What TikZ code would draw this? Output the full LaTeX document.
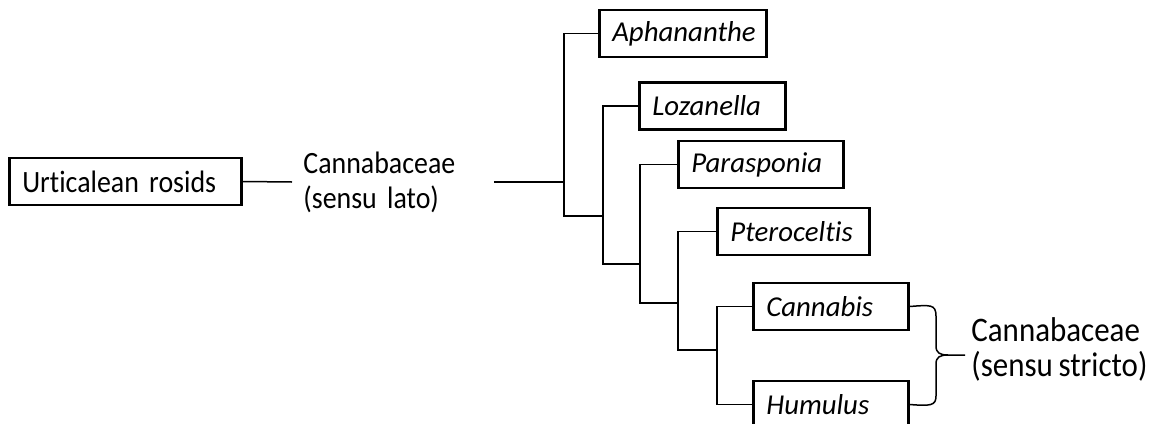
\documentclass[tikz,border=0pt]{standalone}
\usepackage{fontspec}
\setmainfont{Carlito}[Ligatures=CommonOff, FakeStretch=0.9, WordSpace=0.8]
\newfontfamily\taxfont{Carlito}[Ligatures=CommonOff]
\usepackage{tikz}

\begin{document}
\begin{tikzpicture}[x=0.5pt,y=0.5pt,yscale=-1,
    taxon/.style={draw, line width=1.3pt, inner xsep=6.5pt, inner ysep=0pt,
        minimum height=23.5pt, align=left, anchor=west,
        font=\taxfont\itshape\fontsize{14.4}{17}\selectfont},
    clade/.style={inner ysep=0pt, align=left, anchor=west},
    link/.style={line width=0.75pt}
  ]
\clip (0,0) rectangle (1150,423); %set diagram size 1150 x 423

% Text Node
\node [taxon, text width=103pt, font=\fontsize{15.5}{17}\selectfont] (urt) at (8,181.5) {Urticalean rosids};
% Text Node
\node [clade, inner xsep=5.5pt, text width=89.5pt,
    font=\fontsize{15.5}{17.5}\selectfont] (lato) at (292,182) {Cannabaceae\\(sensu lato)};

% Taxon boxes
\node [taxon, text width=70.5pt] (aph) at (598,33.5) {Aphananthe};
\node [taxon, text width=60pt] (loz) at (638,106) {Lozanella};
\node [taxon, text width=69.5pt] (par) at (677,164.5) {Parasponia};
\node [taxon, text width=63pt] (pte) at (716,231.5) {Pteroceltis};
\node [taxon, text width=64.5pt] (can) at (752,306.5) {Cannabis};
\node [taxon, text width=64.5pt] (hum) at (752,404.5) {Humulus};

% Junctions
\coordinate (j1) at (564,182);
\coordinate (j2) at (603,216);
\coordinate (j3) at (640,264);
\coordinate (j4) at (678,303);
\coordinate (j5) at (717,350);
\coordinate (tip) at (965,355);

%Straight Lines
\draw [link] (urt.east) -- (lato.west);
\draw [link] (lato.east) -- (j1);
\draw [link] (aph.west) -| (j1) |- (j2);
\draw [link] (loz.west) -| (j2) |- (j3);
\draw [link] (par.west) -| (j3) |- (j4);
\draw [link] (pte.west) -| (j4) |- (j5);
\draw [link] (can.west) -| (j5) |- (hum.west);

%Curve Lines: brace
\draw [link] (can.east) .. controls (930,305) and (936,304) .. (936,316) -- (936,346)
    .. controls (936,353) and (940,355) .. (948,355) -- (tip);
\draw [link] (hum.east) .. controls (930,406) and (936,406) .. (936,396) -- (936,364)
    .. controls (936,357) and (940,355) .. (948,355);

% Text Node
\node [clade, inner xsep=3pt, font=\fontsize{17.2}{17.5}\selectfont] (strict)
    at (965,349.5) {Cannabaceae\\(sensu stricto)};

\end{tikzpicture}
\end{document}
